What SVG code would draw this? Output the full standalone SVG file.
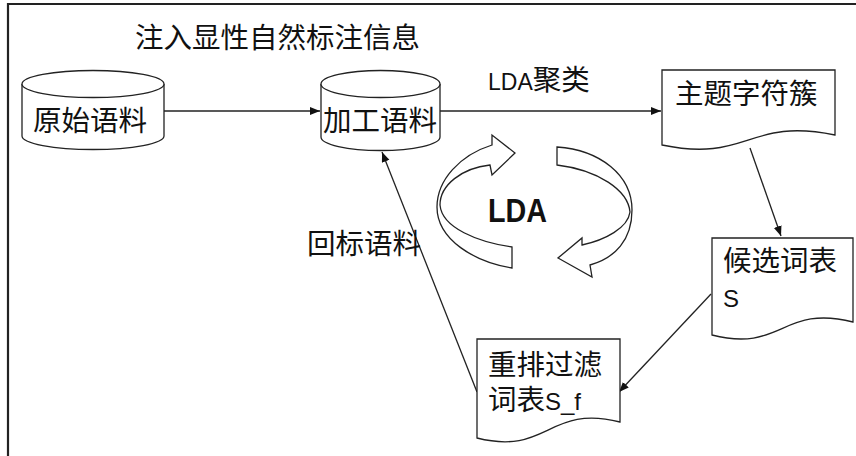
<svg xmlns="http://www.w3.org/2000/svg" width="856" height="456" viewBox="0 0 856 456">
<style>
.sh{fill:#fff;stroke:#222;stroke-width:1.3}
.cn{fill:none;stroke:#222;stroke-width:1.3}
.t{font-family:"Noto Sans CJK SC","Liberation Sans",sans-serif;font-size:28.5px;fill:#111}
.l{font-family:"Liberation Sans","Noto Sans CJK SC",sans-serif;font-size:24px;fill:#111}
.b{font-family:"Liberation Sans",sans-serif;font-size:33px;font-weight:bold;fill:#111}
</style>
<defs>
<marker id="ah" markerUnits="userSpaceOnUse" markerWidth="12" markerHeight="10" refX="10" refY="4" orient="auto">
<path d="M0,0 L10,4 L0,8 Z" fill="#111"/>
</marker>
</defs>
<rect width="856" height="456" fill="#fff"/>
<g id="frame">
<line x1="8" y1="4" x2="856" y2="4" stroke="#222" stroke-width="2.2"/>
<line x1="8" y1="3" x2="8" y2="456" stroke="#222" stroke-width="2.2"/>
</g>
<g id="title"><text class="t" x="135" y="48">注入显性自然标注信息</text></g>
<g id="connectors">
<line class="cn" x1="164" y1="111" x2="320" y2="111" marker-end="url(#ah)"/>
<line class="cn" x1="440" y1="111" x2="661" y2="111" marker-end="url(#ah)"/>
<line class="cn" x1="750" y1="148" x2="781" y2="236" marker-end="url(#ah)"/>
<line class="cn" x1="711" y1="294" x2="619" y2="392" marker-end="url(#ah)"/>
<line class="cn" x1="477" y1="392" x2="382" y2="152" marker-end="url(#ah)"/>
<text class="t" x="488" y="90"><tspan class="l" style="font-size:23px">LDA</tspan>聚类</text>
<text class="t" x="307" y="254">回标语料</text>
</g>
<g id="raw">
<path class="sh" d="M22,84 V136 A71,13.5 0 0 0 164,136 V84"/>
<ellipse class="sh" cx="93" cy="84" rx="71" ry="13.5"/>
<text class="t" x="33" y="131">原始语料</text>
</g>
<g id="processed">
<path class="sh" d="M321,84 V137 A59.5,13.5 0 0 0 440,137 V84"/>
<ellipse class="sh" cx="380.5" cy="84" rx="59.5" ry="13.5"/>
<text class="t" x="323" y="131">加工语料</text>
</g>
<g id="topic">
<path class="sh" d="M662,70 H835 V135 C748,117 748,163 662,145 Z"/>
<text class="t" x="675" y="104">主题字符簇</text>
</g>
<g id="candidate">
<path class="sh" d="M712,238 H853 V322 C782,304 782,353 712,335 Z"/>
<text class="t" x="723" y="271">候选词表</text>
<text class="l" x="723" y="307">S</text>
</g>
<g id="filtered">
<path class="sh" d="M477,339 H620 V422 C548,404 548,456 477,438 Z"/>
<text class="t" x="488" y="375">重排过滤</text>
<text class="t" x="488" y="410">词表<tspan class="l">S_f</tspan></text>
</g>
<g id="lda-cycle">
<path class="sh" d="M492,145 C460,155 437,180 437,207 C437,240 475,262 512,268 L512,247 C478,242 442,228 440,205 C440,185 462,168 490,165 L492,175 L515,153 L492,135 Z"/>
<path class="sh" d="M557,147 C600,150 632,175 632,210 C632,240 615,258 590,265 L592,277 L558,258 L582,238 L582,245 C605,240 628,228 630,212 C628,190 598,170 557,165 Z"/>
<text class="b" x="488" y="222" textLength="59" lengthAdjust="spacingAndGlyphs">LDA</text>
</g>
</svg>
